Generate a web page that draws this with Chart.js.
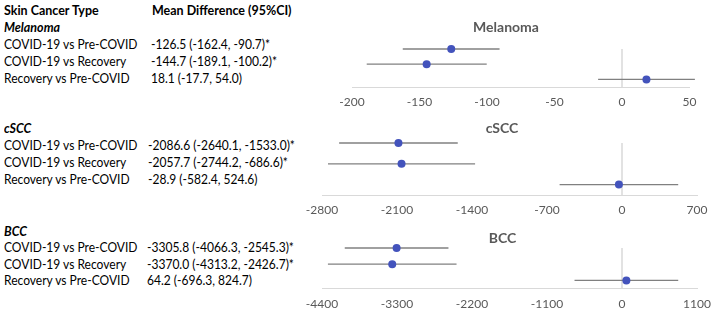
<!DOCTYPE html>
<html>
<head>
<meta charset="utf-8">
<script src="https://cdn.jsdelivr.net/npm/chart.js@4"></script>
<style>
  body { margin: 0; width: 711px; height: 311px; background: #fff; position: relative; overflow: hidden; font-family: Lato, 'Open Sans', sans-serif; }
  .t { position: absolute; font-size: 13px; line-height: 16px; color: #000; white-space: nowrap; transform-origin: 0 50%; transform: scaleX(0.925); }
  .b { font-weight: bold; transform: scaleX(0.96); }
  .bi { font-weight: bold; font-style: italic; transform: scaleX(0.96); }
  canvas { position: absolute; }
</style>
</head>
<body>
<script>
// rows, top to bottom
const comparisons = ['COVID-19 vs Pre-COVID', 'COVID-19 vs Recovery', 'Recovery vs Pre-COVID'];
const rowY = [2.5, 1.5, 0.5];

const melanomaMean = [-126.5, -144.7, 18.1];
const melanomaLow = [-162.4, -189.1, -17.7];
const melanomaHigh = [-90.7, -100.2, 54.0];
const melanomaTicks = [-200, -150, -100, -50, 0, 50];
const melanomaText = ['-126.5 (-162.4, -90.7)*', '-144.7 (-189.1, -100.2)*', '18.1 (-17.7, 54.0)'];

const csccMean = [-2086.6, -2057.7, -28.9];
const csccLow = [-2640.1, -2744.2, -582.4];
const csccHigh = [-1533.0, -1371.2, 524.6]; // bar in the plot ends near -1371
const csccTicks = [-2800, -2100, -1400, -700, 0, 700];
const csccText = ['-2086.6 (-2640.1, -1533.0)*', '-2057.7 (-2744.2, -686.6)*', '-28.9 (-582.4, 524.6)'];

const bccMean = [-3305.8, -3370.0, 64.2];
const bccLow = [-4066.3, -4313.2, -696.3];
const bccHigh = [-2545.3, -2426.7, 824.7];
const bccTicks = [-4400, -3300, -2200, -1100, 0, 1100];
const bccText = ['-3305.8 (-4066.3, -2545.3)*', '-3370.0 (-4313.2, -2426.7)*', '64.2 (-696.3, 824.7)'];

const dotColor = '#4353bc';
const ciColor = '#808080';
const zeroColor = '#d9d9d9';
const grey = '#595959';

// layout of each panel (pixels on the page)
const panels = [
  { name: 'Melanoma', mean: melanomaMean, low: melanomaLow, high: melanomaHigh, ticks: melanomaTicks, text: melanomaText,
    left: 301, width: 410, padL: 51, padR: 21.5, titleY: 27, top: 49, bottom: 87, textY: 27, gap: 17, valX: 151 },
  { name: 'cSCC', mean: csccMean, low: csccLow, high: csccHigh, ticks: csccTicks, text: csccText,
    left: 293, width: 418, padL: 29, padR: 14, titleY: 128, top: 143, bottom: 195, textY: 128, gap: 17, valX: 148 },
  { name: 'BCC', mean: bccMean, low: bccLow, high: bccHigh, ticks: bccTicks, text: bccText,
    left: 294, width: 417, padL: 28, padR: 14, titleY: 238, top: 248, bottom: 288.5, textY: 231, gap: 16.4, valX: 147 }
];

function addText(str, x, cy, cls) {
  const d = document.createElement('div');
  d.className = 't ' + (cls || '');
  d.textContent = str;
  d.style.left = x + 'px';
  d.style.top = (cy - 8) + 'px';
  document.body.appendChild(d);
}

addText('Skin Cancer Type', 4, 10, 'b');
addText('Mean Difference (95%CI)', 152, 10, 'b');

const titleSize = 14, tickSize = 12, tickLen = 8;

panels.forEach(p => {
  addText(p.name, 4, p.textY, 'bi');
  comparisons.forEach((c, i) => {
    const y = p.textY + p.gap * (i + 1);
    addText(c, 4, y);
    addText(p.text[i], p.valX, y);
  });

  const half = titleSize * 1.2 / 2;
  const cTop = Math.round(p.titleY - half - 1);
  const axisH = tickSize * 1.2 + tickLen;
  const h = Math.ceil(p.bottom - cTop + axisH);
  const cv = document.createElement('canvas');
  cv.width = p.width; cv.height = h;
  cv.style.left = p.left + 'px'; cv.style.top = cTop + 'px';
  cv.style.width = p.width + 'px'; cv.style.height = h + 'px';
  document.body.appendChild(cv);

  const datasets = [
    { data: p.mean.map((m, i) => ({ x: m, y: rowY[i] })), backgroundColor: dotColor, borderColor: dotColor,
      pointRadius: 4, borderWidth: 0, clip: false }
  ];
  p.low.forEach((lo, i) => {
    datasets.push({ data: [{ x: lo, y: rowY[i] }, { x: p.high[i], y: rowY[i] }], showLine: true,
      borderColor: ciColor, borderWidth: 1.3, pointRadius: 0, clip: false });
  });
  datasets.push({ data: [{ x: 0, y: 0 }, { x: 0, y: rowY[0] }], showLine: true,
    borderColor: zeroColor, borderWidth: 1.5, pointRadius: 0, clip: false });

  new Chart(cv.getContext('2d'), {
    type: 'scatter',
    data: { datasets },
    options: {
      responsive: false, animation: false, events: [],
      layout: { padding: { top: p.titleY - half - cTop, bottom: h - (p.bottom - cTop) - axisH, left: 0, right: 0 } },
      plugins: {
        legend: { display: false },
        tooltip: { enabled: false },
        title: { display: true, text: p.name, color: grey,
          font: { family: 'Lato', size: titleSize, weight: 'bold' },
          padding: { top: 0, bottom: p.top - (p.titleY + half) } }
      },
      scales: {
        x: {
          type: 'linear', min: p.ticks[0], max: p.ticks[p.ticks.length - 1],
          afterBuildTicks: s => { s.ticks = p.ticks.map(v => ({ value: v })); },
          grid: { display: false, drawTicks: true, tickLength: tickLen },
          border: { color: zeroColor, width: 1 },
          ticks: { color: grey, font: { family: 'Lato', size: tickSize }, padding: 0, callback: v => String(v) }
        },
        y: {
          min: 0, max: rowY[0],
          ticks: { display: false }, grid: { display: false, drawTicks: false }, border: { display: false },
          afterFit: s => { s.width = p.padL; }
        },
        y2: {
          position: 'right',
          ticks: { display: false }, grid: { display: false, drawTicks: false }, border: { display: false },
          afterFit: s => { s.width = p.padR; }
        }
      }
    }
  });
});
</script>
</body>
</html>
